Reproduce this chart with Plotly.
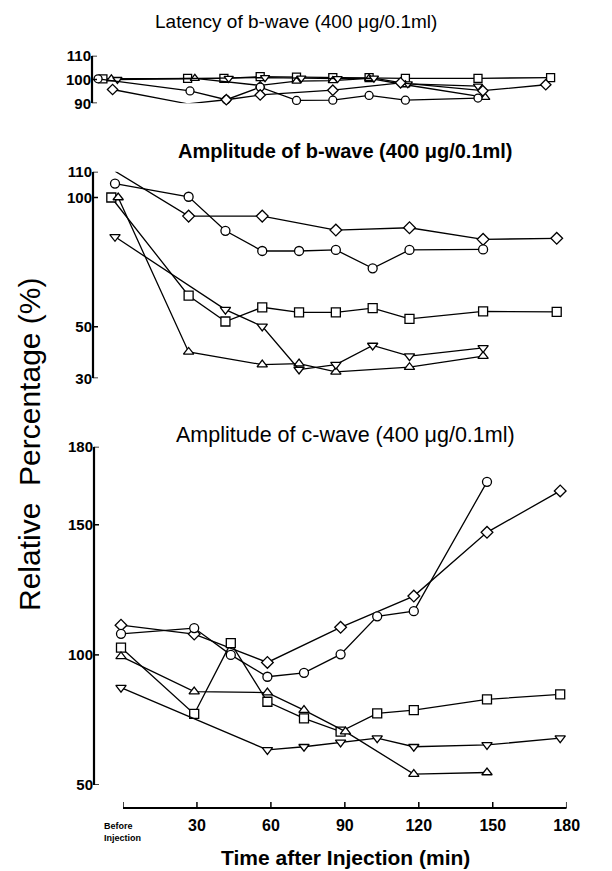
import plotly.graph_objects as go

W, H = 612, 871

# ---------------- data ----------------
lat_sq_t = [-5, 30, 45, 60, 75, 90, 105, 120, 150, 180]
lat_sq_v = [100.3, 100.5, 100.5, 101.2, 101.0, 100.8, 100.8, 100.5, 100.5, 100.8]
lat_up_t = [-1.5, 33, 60, 75, 90, 105, 120, 153]
lat_up_v = [100.3, 100.5, 97.5, 99.3, 99.5, 100.5, 97.8, 92.5]
lat_dn_t = [1, 47, 62, 77, 92, 107, 121, 150]
lat_dn_v = [100.0, 100.5, 100.8, 100.6, 100.4, 100.6, 98.2, 97.2]
lat_ci_t = [-7, 31, 46, 60, 75, 90, 105, 120, 150]
lat_ci_v = [100.3, 95.2, 91.5, 96.8, 91.2, 91.3, 93.3, 91.3, 92.2]
lat_di_t = [-1, 30, 46, 60, 90, 118, 152, 178]
lat_di_v = [95.8, 89.8, 91.5, 93.5, 95.5, 98.6, 95.3, 97.8]

bw_di_t = [0, 30, 60, 90, 120, 150, 180]
bw_di_v = [110.2, 92.8, 92.8, 87.4, 88.3, 83.8, 84.2]
bw_ci_t = [0, 30, 45, 60, 75, 90, 105, 120, 150]
bw_ci_v = [105.4, 100.3, 87.1, 79.3, 79.3, 79.7, 72.6, 79.7, 79.9]
bw_sq_t = [-1.5, 30, 45, 60, 75, 90, 105, 120, 150, 180]
bw_sq_v = [100.0, 62.0, 52.0, 57.5, 55.5, 55.5, 57.2, 53.0, 55.9, 55.7]
bw_up_t = [1.3, 30, 60, 75, 90, 120, 150]
bw_up_v = [100.0, 40.2, 35.3, 35.7, 32.5, 34.3, 38.6]
bw_dn_t = [0, 45, 60, 75, 90, 105, 120, 150]
bw_dn_v = [84.8, 56.6, 50.1, 33.4, 35.3, 42.7, 38.6, 41.8]

cw_di_t = [0, 30, 60, 90, 120, 150, 180]
cw_di_v = [111.4, 108.0, 97.1, 110.6, 122.6, 147.1, 163.0]
cw_ci_t = [0, 30, 45, 60, 75, 90, 105, 120, 150]
cw_ci_v = [108.1, 110.3, 100.0, 91.6, 93.1, 100.2, 114.8, 116.8, 166.5]
cw_sq_t = [0, 30, 45, 60, 75, 90, 105, 120, 150, 180]
cw_sq_v = [102.8, 77.3, 104.5, 82.0, 75.6, 70.5, 77.5, 78.8, 82.9, 84.8]
cw_up_t = [0, 30, 60, 75, 92, 120, 150]
cw_up_v = [99.4, 85.9, 85.5, 78.8, 70.5, 54.2, 54.8]
cw_dn_t = [0, 60, 75, 90, 105, 120, 150, 180]
cw_dn_v = [87.4, 63.5, 64.7, 66.4, 68.0, 64.7, 65.4, 68.0]

y1_ticks = [90, 100, 110]
y2_ticks = [30, 50, 100, 110]
y3_ticks = [50, 100, 150, 180]
x_tickvals = [0, 30, 60, 90, 120, 150, 180]
x_ticktext = ["", "30", "60", "90", "120", "150", "180"]

titles = ["Latency of b-wave (400 μg/0.1ml)",
          "Amplitude of b-wave (400 μg/0.1ml)",
          "Amplitude of c-wave (400 μg/0.1ml)"]

FONT = "Liberation Sans, Arial, Helvetica, sans-serif"


def px_x(p):
    return p / W


def px_y(p):
    return 1 - p / H


def xr(x0, s, left, right):
    return [(left - x0) / s, (right - x0) / s]


fig = go.Figure()


def add(t, v, sym, xa, ya, size=9):
    fig.add_trace(go.Scatter(x=t, y=v, mode="lines+markers", xaxis=xa, yaxis=ya,
                             line=dict(color="black", width=1.3),
                             marker=dict(symbol=sym, size=size, color="white",
                                         line=dict(color="black", width=1.3)),
                             cliponaxis=False, showlegend=False, hoverinfo="skip"))


add(lat_sq_t, lat_sq_v, "square", "x", "y", 8)
add(lat_up_t, lat_up_v, "triangle-up", "x", "y", 8)
add(lat_dn_t, lat_dn_v, "triangle-down", "x", "y", 8)
add(lat_ci_t, lat_ci_v, "circle", "x", "y", 8)
add(lat_di_t, lat_di_v, "diamond", "x", "y", 8)
add(bw_di_t, bw_di_v, "diamond", "x2", "y2")
add(bw_ci_t, bw_ci_v, "circle", "x2", "y2")
add(bw_sq_t, bw_sq_v, "square", "x2", "y2")
add(bw_up_t, bw_up_v, "triangle-up", "x2", "y2")
add(bw_dn_t, bw_dn_v, "triangle-down", "x2", "y2")
add(cw_di_t, cw_di_v, "diamond", "x3", "y3")
add(cw_ci_t, cw_ci_v, "circle", "x3", "y3")
add(cw_sq_t, cw_sq_v, "square", "x3", "y3")
add(cw_up_t, cw_up_v, "triangle-up", "x3", "y3")
add(cw_dn_t, cw_dn_v, "triangle-down", "x3", "y3")
fig.add_trace(go.Scatter(x=[0, 180], y=[0.5, 0.5], mode="markers", xaxis="x4", yaxis="y4",
                         marker=dict(size=1, color="rgba(0,0,0,0)"), showlegend=False,
                         hoverinfo="skip"))

tickfont = dict(family=FONT, size=15, color="black", weight="bold")
yax = dict(showline=False, ticks="", showgrid=False, zeroline=False, automargin=False,
           tickfont=tickfont, fixedrange=True)
xhid = dict(visible=False, automargin=False, fixedrange=True)

P1 = dict(left=92, x0=115, s=2.42, top=55.7, bot=103.3)
P2 = dict(left=93, x0=115, s=2.454, top=171.7, bot=378.3)
P3 = dict(left=94, x0=121, s=2.44, top=446.7, bot=785)
RIGHT = 600

fig.update_layout(
    template="none",
    width=W, height=H, autosize=False,
    margin=dict(l=0, r=0, t=0, b=0, pad=0, autoexpand=False),
    paper_bgcolor="white", plot_bgcolor="white",
    xaxis=dict(xhid, domain=[px_x(P1["left"]), px_x(RIGHT)],
               range=xr(P1["x0"], P1["s"], P1["left"], RIGHT), anchor="y"),
    yaxis=dict(yax, domain=[px_y(P1["bot"]), px_y(P1["top"])], range=[90, 110],
               tickvals=y1_ticks, anchor="x"),
    xaxis2=dict(xhid, domain=[px_x(P2["left"]), px_x(RIGHT)],
                range=xr(P2["x0"], P2["s"], P2["left"], RIGHT), anchor="y2"),
    yaxis2=dict(yax, domain=[px_y(P2["bot"]), px_y(P2["top"])], range=[30, 110],
                tickvals=y2_ticks, anchor="x2"),
    xaxis3=dict(xhid, domain=[px_x(P3["left"]), px_x(RIGHT)],
                range=xr(P3["x0"], P3["s"], P3["left"], RIGHT), anchor="y3"),
    yaxis3=dict(yax, domain=[px_y(P3["bot"]), px_y(P3["top"])], range=[50, 180],
                tickvals=y3_ticks, anchor="x3"),
    xaxis4=dict(domain=[px_x(123), px_x(566.7)], range=[0, 180], anchor="y4",
                showline=False, ticks="", showgrid=False, zeroline=False, automargin=False,
                tickvals=x_tickvals, ticktext=x_ticktext, ticklabelstandoff=6,
                tickfont=dict(family=FONT, size=16, color="black", weight="bold"),
                fixedrange=True),
    yaxis4=dict(domain=[px_y(808), px_y(800)], range=[0, 1], anchor="x4", visible=False,
                automargin=False, fixedrange=True),
)

AX_W = 2.2
TK_W = 1.5
for ya, ticks, rng, P in [("y", y1_ticks, [90, 110], P1),
                          ("y2", y2_ticks, [30, 110], P2),
                          ("y3", y3_ticks, [50, 180], P3)]:
    xl = px_x(P["left"])
    fig.add_shape(type="line", xref="paper", yref=ya, x0=xl, x1=xl,
                  y0=rng[0], y1=rng[1], line=dict(color="black", width=AX_W))
    for v in ticks:
        fig.add_shape(type="line", xref="paper", yref=ya, x0=xl, x1=xl + 5 / W,
                      y0=v, y1=v, line=dict(color="black", width=TK_W))

fig.add_shape(type="line", xref="x4", yref="y4 domain", x0=0, x1=180, y0=0, y1=0,
              line=dict(color="black", width=2))
for v in x_tickvals:
    fig.add_shape(type="line", xref="x4", yref="y4 domain", x0=v, x1=v, y0=0, y1=0.75,
                  line=dict(color="black", width=TK_W))

ann = [
    dict(text=titles[0], x=px_x(296), y=px_y(22), size=19, weight="normal"),
    dict(text=titles[1], x=px_x(345), y=px_y(151), size=20, weight="bold"),
    dict(text=titles[2], x=px_x(345), y=px_y(435), size=21.5, weight="normal"),
    dict(text="Time after Injection (min)", x=px_x(345), y=px_y(857), size=21, weight="bold"),
]
for a in ann:
    fig.add_annotation(text=a["text"], x=a["x"], y=a["y"], xref="paper", yref="paper",
                       showarrow=False, xanchor="center", yanchor="middle",
                       font=dict(family=FONT, size=a["size"], color="black", weight=a["weight"]))

fig.add_annotation(text="Before<br>Injection", x=px_x(102), y=px_y(832), xref="paper", yref="paper",
                   showarrow=False, xanchor="left", yanchor="middle", align="left",
                   font=dict(family=FONT, size=9, color="black", weight="bold"))

fig.add_annotation(text="Relative  Percentage (%)", x=px_x(29), y=px_y(444), xref="paper",
                   yref="paper", showarrow=False, textangle=-90, xanchor="center",
                   yanchor="middle", font=dict(family=FONT, size=30, color="black"))

fig.write_html("out.html", config={"responsive": False})
